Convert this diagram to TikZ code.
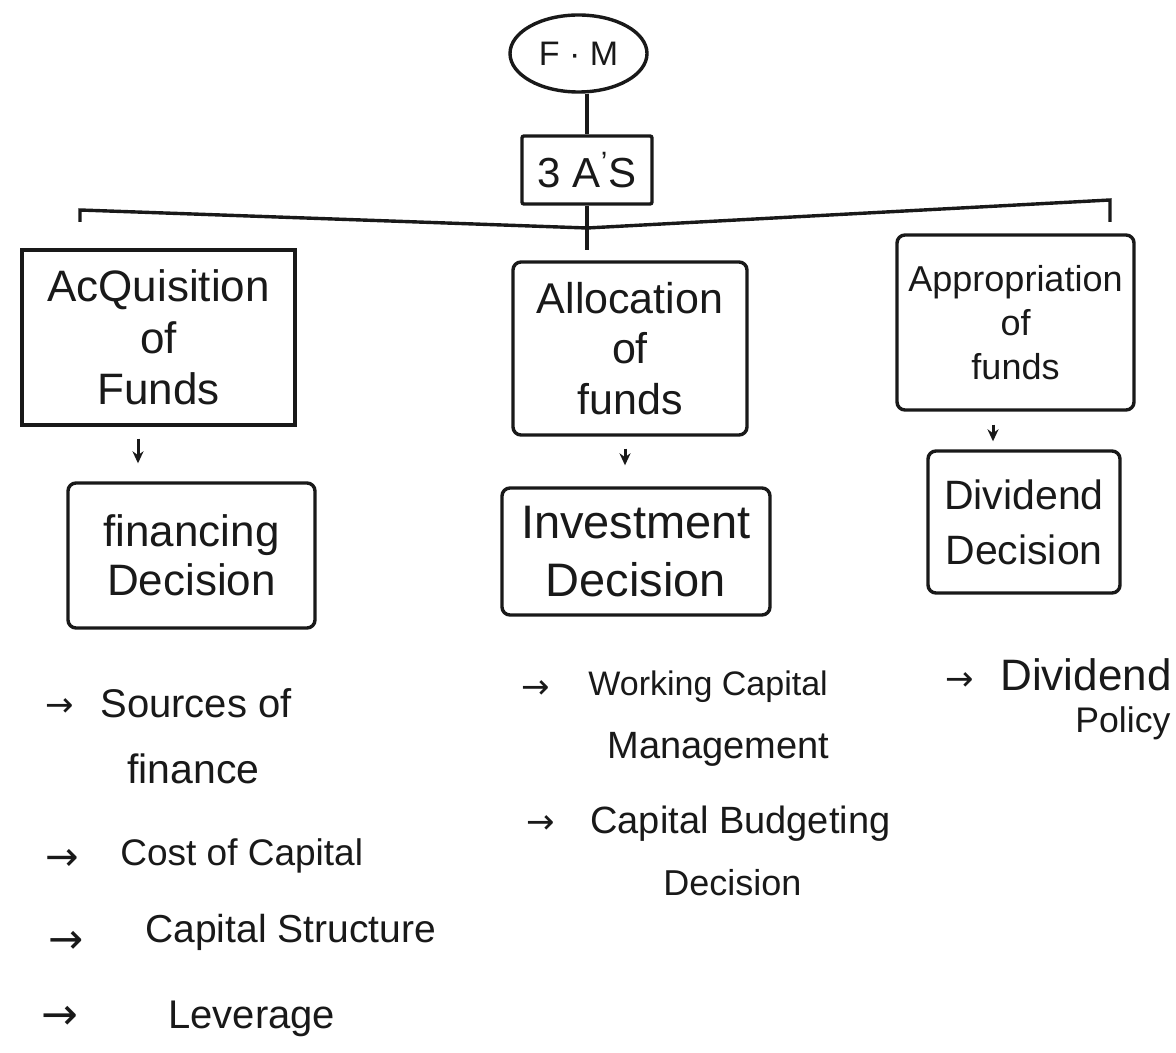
\documentclass[tikz,border=0pt]{standalone}
\usepackage{fontspec}
\setmainfont{Liberation Sans}
\newfontfamily\arrowfont{DejaVu Sans}
\usetikzlibrary{shapes.geometric,arrows.meta}
\newcommand\fsz[2]{\fontsize{#1}{#2}\selectfont}
\begin{document}
\begin{tikzpicture}[x=0.5pt,y=-0.5pt,
  ink/.style={draw=black!90, line width=1.7pt},
  box/.style={ink, rectangle, rounded corners=4pt, align=center, inner sep=0pt, text=black!90},
  tip/.style={ink, line width=1.5pt, -{Stealth[length=6pt,width=5.5pt]}},
  item/.style={anchor=base west, inner sep=0pt, text=black!90, font=\fsz{19}{23}},
  bullet/.style={anchor=center, inner sep=0pt, text=black!90, font=\arrowfont\fsz{17}{19}},
]
\useasboundingbox[fill=white] (0,0) rectangle (1176,1053);

% root and the "3 A's" node
\node[ink, ellipse, minimum width=68.5pt, minimum height=38.5pt, inner sep=0pt,
      text=black!90, font=\fsz{17}{20}] (fm) at (578.5,53.5) {F · M};
\node[box, rounded corners=1pt, minimum width=65pt, minimum height=34pt,
      font=\fsz{21}{24}] (tas) at (587,170) {3 A\textsuperscript{'}S};
\draw[ink] (fm.south -| tas.north) -- (tas.north);

% branching bar
\coordinate (barL) at (80,222);
\coordinate (barLt) at (80,210);
\coordinate (barM) at (587,228);
\coordinate (barRt) at (1110,200);
\coordinate (barR) at (1110,222);
\coordinate (stem) at (587,250);
\draw[ink] (barL) -- (barLt) -- (barM) -- (barRt) -- (barR);
\draw[ink] (tas.south) -- (stem);

% the three A's
\node[box, rounded corners=0pt, minimum width=136.5pt, minimum height=87.5pt,
      font=\fsz{22}{25.75}] (acq) at (158.5,337.5) {AcQuisition\\of\\Funds};
\node[box, minimum width=117pt, minimum height=86.5pt,
      font=\fsz{21.5}{25.25}] (alloc) at (630,348.5) {Allocation\\of\\funds};
\node[box, minimum width=118.5pt, minimum height=87.5pt,
      font=\fsz{18}{22}] (approp) at (1015.5,322.5) {Appropriation\\of\\funds};

% the decisions
\node[box, minimum width=123.5pt, minimum height=72.5pt,
      font=\fsz{22}{24.5}] (fin) at (191.5,555.5) {financing\\Decision};
\node[box, minimum width=134pt, minimum height=63.5pt,
      font=\fsz{23.5}{29}] (inv) at (636,551.5) {Investment\\Decision};
\node[box, minimum width=96pt, minimum height=71pt,
      font=\fsz{20.5}{27.5}] (div) at (1024,522) {Dividend\\Decision};

% short arrows between the levels
\coordinate (a1) at (138,0);
\coordinate (a2) at (625,0);
\coordinate (a3) at (993,0);
\draw[tip, shorten <=6pt, shorten >=9pt] (acq.south -| a1) -- (fin.north -| a1);
\draw[tip, shorten <=6pt, shorten >=10.5pt] (alloc.south -| a2) -- (inv.north -| a2);
\draw[tip, shorten <=6.5pt, shorten >=4pt] (approp.south -| a3) -- (div.north -| a3);

% financing decision topics
\node[bullet] (b1) at (60,708) {→};
\node[item, font=\fsz{20}{23}] (s1) at (100,717) {Sources of};
\node[item, font=\fsz{20.5}{24}] (s1b) at (127,783) {finance};
\node[bullet, font=\arrowfont\fsz{20}{22}] (b2) at (62,860) {→};
\node[item, font=\fsz{18.5}{22}] (s2) at (120,865) {Cost of Capital};
\node[bullet, font=\arrowfont\fsz{21}{23}] (b3) at (66,942) {→};
\node[item, font=\fsz{19.5}{23}] (s3) at (145,942) {Capital Structure};
\node[bullet, font=\arrowfont\fsz{22}{24}] (b4) at (60,1018) {→};
\node[item, font=\fsz{20}{23}] (s4) at (168,1028) {Leverage};

% investment decision topics
\node[bullet] (m1a) at (536,690) {→};
\node[item, font=\fsz{17}{20}] (m1) at (588,695) {Working Capital};
\node[item, font=\fsz{19}{22}] (m1b) at (607,758) {Management};
\node[bullet] (m2a) at (541,825) {→};
\node[item, font=\fsz{19}{22}] (m2) at (590,833) {Capital Budgeting};
\node[item, font=\fsz{18}{21}] (m2b) at (663,895) {Decision};

% dividend decision topic
\node[bullet] (r1a) at (960,682) {→};
\node[item, font=\fsz{22}{25}] (r1) at (1000,690) {Dividend};
\node[item, font=\fsz{17.8}{21}] (r1b) at (1075,732) {Policy};
\end{tikzpicture}
\end{document}
